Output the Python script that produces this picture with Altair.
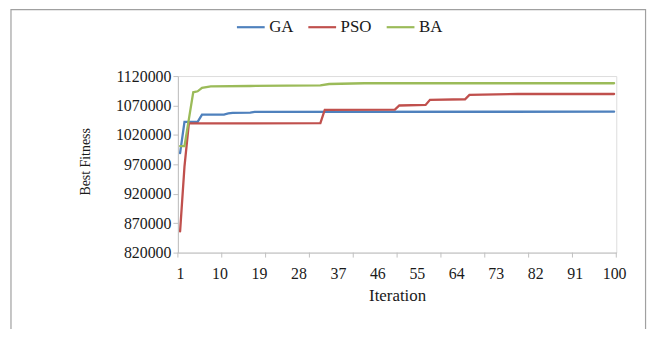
import altair as alt
import pandas as pd

# ---- data ----
series_names = ["GA", "PSO", "BA"]
series_colors = ["#4F81BD", "#C0504D", "#9BBB59"]

ga_iter = [1, 2, 5, 6, 11, 12, 13, 17, 18, 100]
ga_val = [989000, 1042000, 1042000, 1054300, 1054500, 1056500, 1057600, 1057800, 1059000, 1059500]

pso_iter = [1, 2, 3, 33, 34, 50, 51, 57, 58, 66, 67, 78, 100]
pso_val = [856000, 966000, 1039500, 1040000, 1062700, 1063000, 1070000, 1071000,
           1079600, 1080600, 1088000, 1089500, 1089500]

ba_iter = [1, 2, 4, 5, 6, 8, 17, 33, 35, 43, 100]
ba_val = [1001000, 1001000, 1092400, 1094100, 1099800, 1102500, 1103100, 1104000,
          1106500, 1107800, 1107800]

x_labels = [1, 10, 19, 28, 37, 46, 55, 64, 73, 82, 91, 100]
x_tick_marks = [0.5, 10.5, 20.5, 30.5, 40.5, 50.5, 60.5, 70.5, 80.5, 90.5, 100.5]
y_ticks = [820000, 870000, 920000, 970000, 1020000, 1070000, 1120000]

# ---- build table ----
rows = []
for name, its, vals in zip(series_names, [ga_iter, pso_iter, ba_iter], [ga_val, pso_val, ba_val]):
    for k, (i, v) in enumerate(zip(its, vals)):
        rows.append({"Algorithm": name, "Iteration": i, "Fitness": v, "order": k})
df = pd.DataFrame(rows)

W, H = 442, 178
FONT = "Liberation Serif"
TXT = "#1a1a1a"
AX = "#c0c0c0"

xscale = alt.Scale(domain=[0.5, 100.5], nice=False, zero=False)
yscale = alt.Scale(domain=[820000, 1120000], nice=False, zero=False)

lines = alt.Chart(df).mark_line(strokeWidth=2.3, strokeCap="round").encode(
    x=alt.X("Iteration:Q", scale=xscale,
            axis=alt.Axis(values=x_labels, ticks=False, grid=False, title="Iteration",
                          labelFont=FONT, labelFontSize=16, labelColor=TXT, labelPadding=13,
                          titleFont=FONT, titleFontSize=17, titleFontWeight="normal",
                          titleColor=TXT, titlePadding=6, domainColor=AX, labelFlush=False)),
    y=alt.Y("Fitness:Q", scale=yscale,
            axis=alt.Axis(values=y_ticks, format="d", grid=False, title="Best Fitness",
                          tickSize=5, tickColor=AX, domainColor=AX, labelPadding=2,
                          labelFont=FONT, labelFontSize=16, labelColor=TXT,
                          titleFont=FONT, titleFontSize=14, titleFontWeight="normal",
                          titleColor=TXT, titleX=-93, titleY=86, titleAngle=270,
                          titleAlign="center", titleBaseline="middle")),
    color=alt.Color("Algorithm:N",
                    scale=alt.Scale(domain=series_names, range=series_colors),
                    sort=series_names,
                    legend=alt.Legend(title=None, orient="none", direction="horizontal",
                                      legendX=58, legendY=-65, symbolType="stroke",
                                      symbolSize=784, symbolStrokeWidth=2.2,
                                      labelFont=FONT, labelFontSize=17, labelColor=TXT,
                                      labelOffset=3, columnPadding=10)),
    order="order:Q",
)

ticks_df = pd.DataFrame({"t": x_tick_marks})
xticks = alt.Chart(ticks_df).mark_rule(color=AX, strokeWidth=1).encode(
    x=alt.X("t:Q", scale=xscale),
    y=alt.value(H),
    y2=alt.value(H + 5),
)

frame = alt.Chart(pd.DataFrame({"a": [0]})).mark_rect(
    fill="transparent", stroke="#a0a0a0", strokeWidth=1.2, clip=False
).encode(
    x=alt.value(-168.3), x2=alt.value(471.5), y=alt.value(-67), y2=alt.value(330)
)

chart = alt.layer(frame, xticks, lines).properties(
    width=W, height=H,
    padding={"left": 171.3, "top": 67.3, "right": 36, "bottom": 76},
    autosize=alt.AutoSizeParams(type="none"),
).configure_view(stroke=None).configure(background="white")

chart.save("out.html", embed_options={"renderer": "svg", "actions": False})
